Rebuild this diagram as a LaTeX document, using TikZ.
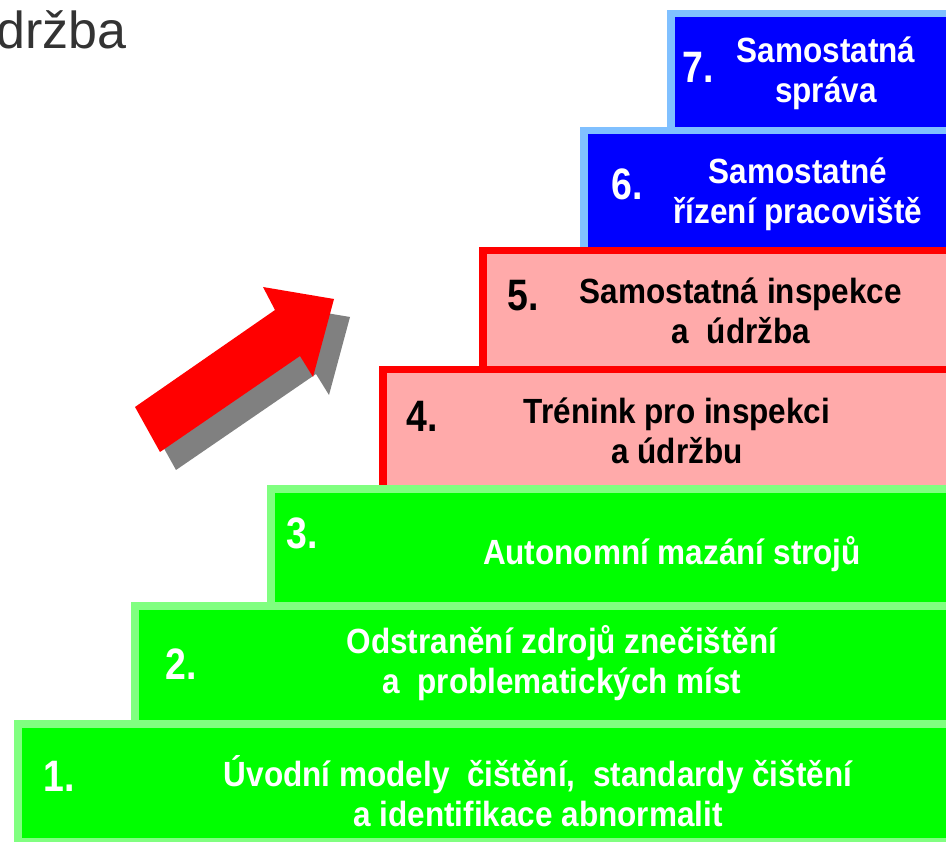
\documentclass[tikz,border=0pt]{standalone}
\usepackage{fontspec}
\setmainfont{Liberation Sans}
\newfontfamily\stepfont[FakeStretch=0.9]{Liberation Sans}
\newfontfamily\numfont[FakeStretch=0.85]{Liberation Sans}
\usepackage{tikz}

\definecolor{greenfill}{HTML}{00FF00}
\definecolor{greenedge}{HTML}{80FF80}
\definecolor{pinkfill}{HTML}{FFAAAA}
\definecolor{pinkedge}{HTML}{FF0000}
\definecolor{bluefill}{HTML}{0000FF}
\definecolor{blueedge}{HTML}{80C0FF}
\definecolor{titlegray}{HTML}{333333}

\tikzset{
  edge/.style={line width=7.5pt},
  boxtext/.style={font=\stepfont\bfseries\fontsize{35}{40}\selectfont, align=center, inner sep=0pt},
  boxnum/.style={font=\numfont\bfseries\fontsize{44}{44}\selectfont, inner sep=0pt},
}

\begin{document}
\begin{tikzpicture}[x=1pt,y=-1pt]
\useasboundingbox (0,0) rectangle (946,842);

% title, cut at the left edge
\node[anchor=base west, inner sep=0pt, text=titlegray, font=\fontsize{52}{52}\selectfont] (T) at (-4,49) {držba};

% arrow with its shadow
\fill[gray] ([shift={(16,18)}]135,407) -- ([shift={(16,18)}]160,452) -- ([shift={(16,18)}]300,356) -- ([shift={(16,18)}]313,377)
  -- ([shift={(16,18)}]334,299) -- ([shift={(16,18)}]263,287) -- ([shift={(16,18)}]275,310) -- cycle;
\fill[red] (135,407) -- (160,452) -- (300,356) -- (313,377) -- (334,299) -- (263,287) -- (275,310) -- cycle;

% step 7
\fill[bluefill] (667,10) rectangle (946,127);
\draw[edge, blueedge] (670.75,127) -- (670.75,13.75) -- (946,13.75);
% step 6
\fill[bluefill] (580,127) rectangle (946,247);
\draw[edge, blueedge] (583.75,247) -- (583.75,130.75) -- (946,130.75);
% step 5
\fill[pinkfill] (479,247) rectangle (946,366);
\draw[edge, pinkedge] (482.75,366) -- (482.75,250.75) -- (946,250.75);
% step 4
\fill[pinkfill] (379,366) rectangle (946,485);
\draw[edge, pinkedge] (382.75,485) -- (382.75,369.75) -- (946,369.75);
% step 3
\fill[greenfill] (267,485) rectangle (946,602);
\draw[edge, greenedge] (270.75,602) -- (270.75,488.75) -- (946,488.75);
% step 2
\fill[greenfill] (131,602) rectangle (946,720);
\draw[edge, greenedge] (134.75,720) -- (134.75,605.75) -- (946,605.75);
% step 1
\fill[greenfill] (14,720) rectangle (946,842);
\draw[edge, greenedge] (17.75,842) -- (17.75,723.75) -- (946,723.75);
\fill[greenedge] (14,838) rectangle (946,842);

% labels
\node[boxnum, white] (N7) at (698,67) {7.};
\node[boxtext, white] (S7) at (826,73) {Samostatná\\správa};
\node[boxnum, white] (N6) at (627,184) {6.};
\node[boxtext, white] (S6) at (798,194) {Samostatné\\řízení pracoviště};
\node[boxnum, black] (N5) at (523,296) {5.};
\node[boxtext, black] (S5) at (741,311) {Samostatná inspekce\\a\ \ údržba};
\node[boxnum, black] (N4) at (422,416) {4.};
\node[boxtext, black] (S4) at (677,431) {Trénink pro inspekci\\a údržbu};
\node[boxnum, white] (N3) at (302,533) {3.};
\node[boxtext, white] (S3) at (672,554) {Autonomní mazání strojů};
\node[boxnum, white] (N2) at (181,664) {2.};
\node[boxtext, white] (S2) at (562,663) {Odstranění zdrojů znečištění\\a\ \ problematických míst};
\node[boxnum, white] (N1) at (59,776) {1.};
\node[boxtext, white] (S1) at (538,791) {Úvodní modely\ \ čištění,\ \ standardy čištění\\a identifikace abnormalit};
\end{tikzpicture}
\end{document}
